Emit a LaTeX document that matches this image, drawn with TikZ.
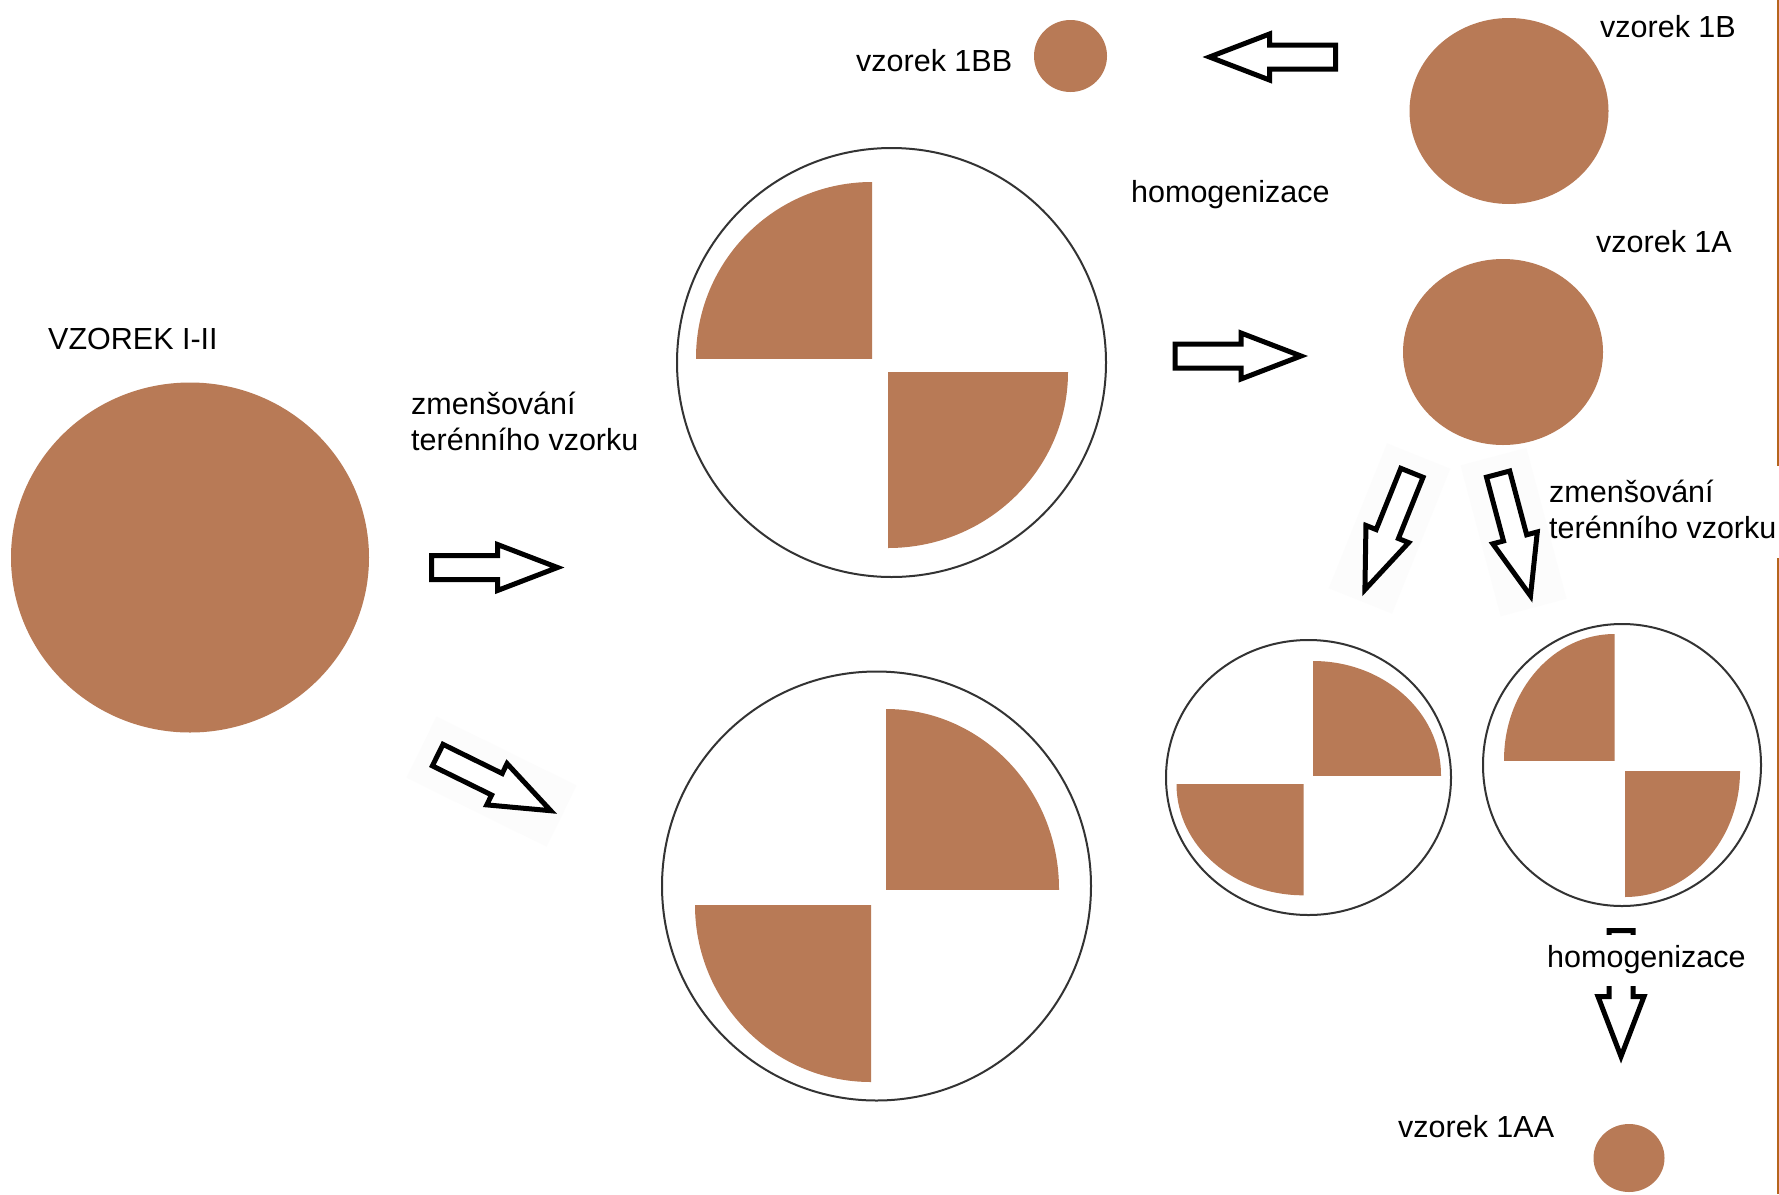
\documentclass[tikz,border=0pt]{standalone}
\usepackage{fontspec}
\setmainfont{Liberation Sans}
\usetikzlibrary{shapes.geometric}
\definecolor{soil}{HTML}{B87A56}
\definecolor{rim}{HTML}{333333}
\definecolor{edgeline}{HTML}{B5651D}
\definecolor{faint}{HTML}{FCFCFC}
\newcommand\soilquarter[6]{%
  \begin{scope}
    \clip (#1,#2) rectangle ++({#5*(#3+2)},{#6*(#4+2)});
    \fill[soil] (#1,#2) ellipse [x radius=#3, y radius=#4];
  \end{scope}}
\begin{document}
\begin{tikzpicture}[x=1pt,y=-1pt,
  lbl/.style={font=\fontsize{30.5}{36.5}\selectfont, inner sep=0pt, anchor=base west},
  blob/.style={ellipse, fill=soil, inner sep=0pt},
  dish/.style={ellipse, draw=rim, line width=2pt, inner sep=0pt},
  blockarrow/.pic={\draw[line width=5pt, line join=miter, fill=white]
      (0,-12) -- (66,-12) -- (66,-23) -- (126,0) -- (66,23) -- (66,12) -- (0,12) -- cycle;},
  faintbox/.pic={\fill[faint] (-18,-34) rectangle (138,34);}
]
\useasboundingbox (0,0) rectangle (1779,1194);
\fill[white] (0,0) rectangle (1779,1194);

% right edge line
\draw[edgeline, line width=3pt] (1778,0) -- (1778,466);
\draw[edgeline, line width=3pt] (1778,558) -- (1778,1194);

% big sample
\node[blob, minimum width=358pt, minimum height=350pt] (big) at (190,557.5) {};
\node[lbl] (tbig) at (48,349) {VZOREK I-II};
\node[lbl] (tred1) at (411,414) {\begin{tabular}[t]{@{}l@{}}zmenšování\\terénního vzorku\end{tabular}};

% upper split dish
\node[dish, minimum width=429pt, minimum height=429pt] (dishA) at (891.5,362.5) {};
\soilquarter{872}{358}{176}{176}{-1}{-1}
\soilquarter{888}{372}{180}{176}{1}{1}

% lower split dish
\node[dish, minimum width=429pt, minimum height=429pt] (dishB) at (876.5,886) {};
\soilquarter{886}{889}{173}{180}{1}{-1}
\soilquarter{871}{905}{176}{177}{-1}{1}

% small dishes
\node[dish, minimum width=285pt, minimum height=275pt] (dishC) at (1308.5,777.5) {};
\soilquarter{1313}{775}{128}{114}{1}{-1}
\soilquarter{1303.5}{784.3}{127}{111}{-1}{1}
\node[dish, minimum width=278pt, minimum height=282pt] (dishD) at (1622,765) {};
\soilquarter{1614.5}{760}{110.5}{126}{-1}{-1}
\soilquarter{1625}{771}{115}{126}{1}{1}

% samples 1B, 1A, 1BB, 1AA
\node[blob, minimum width=199pt, minimum height=186pt] (s1B) at (1509,111) {};
\node[lbl] (t1B) at (1600,37) {vzorek 1B};
\node[blob, minimum width=200pt, minimum height=186pt] (s1A) at (1503,352) {};
\node[lbl] (t1A) at (1596,252) {vzorek 1A};
\node[blob, minimum width=73pt, minimum height=72pt] (s1BB) at (1070.5,56) {};
\node[lbl] (t1BB) at (856,71) {vzorek 1BB};
\node[blob, minimum width=71pt, minimum height=68pt] (s1AA) at (1629,1158) {};
\node[lbl] (t1AA) at (1398,1137) {vzorek 1AA};

\node[lbl] (thomA) at (1131,202) {homogenizace};

% block arrows
\pic at (431.5,567.5) {blockarrow};
\pic[rotate=-26.2] at (437.7,755.1) {faintbox};
\pic[rotate=-26.2] at (437.7,755.1) {blockarrow};
\pic at (1175,356) {blockarrow};
\pic[rotate=180] at (1335.5,57) {blockarrow};
\pic[rotate=-111.9] at (1411.9,472.8) {faintbox};
\pic[rotate=-75.1] at (1498.1,474.1) {faintbox};
\pic[rotate=-111.9] at (1411.9,472.8) {blockarrow};
\pic[rotate=-75.1] at (1498.1,474.1) {blockarrow};
\pic[rotate=-90] at (1621,930.5) {blockarrow};

\node[lbl] (tred2) at (1549,502) {\begin{tabular}[t]{@{}l@{}}zmenšování\\terénního vzorku\end{tabular}};
\node[lbl, fill=white, text height=22pt, text depth=9pt, inner ysep=10pt, inner xsep=2pt] (thomB) at (1545,967) {homogenizace};
\end{tikzpicture}
\end{document}
